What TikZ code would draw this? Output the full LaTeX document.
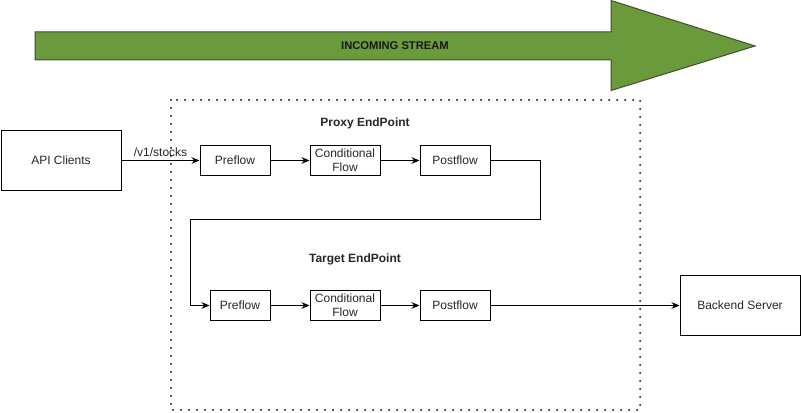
\documentclass[tikz,border=0pt]{standalone}
\usepackage{fontspec}
\setmainfont{Liberation Sans}
\usetikzlibrary{arrows.meta}
\definecolor{streamgreen}{RGB}{106,154,60}
\definecolor{streamedge}{RGB}{60,80,45}
\begin{document}
\begin{tikzpicture}[x=0.75pt,y=-0.75pt,
  every node/.style={font=\fontsize{9}{10.5}\selectfont, text=black!85},
  flowbox/.style={draw, line width=0.75pt, minimum width=52.5pt, minimum height=22.5pt, inner sep=1pt, align=center},
  bigbox/.style={draw, line width=0.75pt, minimum width=90pt, minimum height=45pt, align=center},
  conn/.style={draw, line width=0.75pt, -{Stealth[length=6pt,width=5pt]}},
  lbl/.style={font=\bfseries\fontsize{9}{10.5}\selectfont}]
\useasboundingbox (0,0) rectangle (801,413);
% incoming stream arrow
\draw[fill=streamgreen, draw=streamedge, line width=0.75pt]
  (35,32) -- (611,32) -- (611,0.5) -- (755,46) -- (611,90.5) -- (611,60) -- (35,60) -- cycle;
\node[font=\bfseries\fontsize{8.4}{10}\selectfont, text=black!90] (stream) at (395,46) {INCOMING STREAM};
% dotted container
\draw[line width=1.5pt, line cap=round, dash pattern=on 0pt off 6pt] (171,100) rectangle (640,410);
% labels
\node[lbl] (proxylbl) at (365,123) {Proxy EndPoint};
\node[lbl] (targetlbl) at (355,259) {Target EndPoint};
% nodes
\node[bigbox] (api) at (61,160.5) {API Clients};
\node[flowbox] (ppre) at (235,160.5) {Preflow};
\node[flowbox] (pcond) at (345,160.5) {Conditional\\Flow};
\node[flowbox] (ppost) at (455,160.5) {Postflow};
\node[flowbox, minimum width=45pt] (tpre) at (240,305.5) {Preflow};
\node[flowbox] (tcond) at (345,305.5) {Conditional\\Flow};
\node[flowbox] (tpost) at (455,305.5) {Postflow};
\node[bigbox] (backend) at (740,305.5) {Backend Server};
% connectors
\draw[conn] (api.east) -- node[above=-1pt, pos=0.5] (path) {/v1/stocks} (ppre.west);
\draw[conn] (ppre) -- (pcond);
\draw[conn] (pcond) -- (ppost);
\coordinate (c1) at (540.5,160.5);
\coordinate (c2) at (540.5,220);
\coordinate (c3) at (190.5,220);
\coordinate (c4) at (190.5,305.5);
\draw[conn] (ppost.east) -- (c1) -- (c2) -- (c3) -- (c4) -- (tpre.west);
\draw[conn] (tpre) -- (tcond);
\draw[conn] (tcond) -- (tpost);
\draw[conn] (tpost) -- (backend);
\end{tikzpicture}
\end{document}
